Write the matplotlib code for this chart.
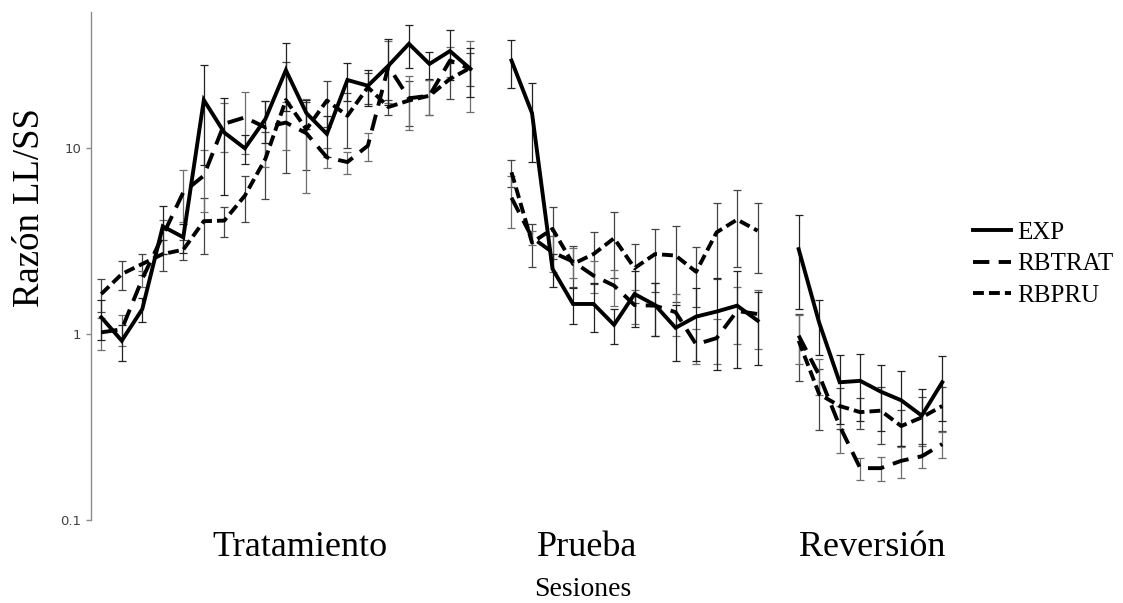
import numpy as np
import matplotlib
matplotlib.use("Agg")
import matplotlib.pyplot as plt

# ---- data -------------------------------------------------------------
# sessions per phase (a blank slot separates the phases on the category axis)
n_trat, n_prue, n_rev = 19, 13, 8

exp_trat = [1.23, 0.92, 1.36, 3.79, 3.31, 18.1, 12.1, 9.96, 14.3, 26.2,
            15.4, 11.9, 23.2, 21.6, 27.7, 36.3, 28.3, 33.2, 26.6]
exp_prue = [29.5, 15.4, 2.24, 1.45, 1.45, 1.12, 1.64, 1.43, 1.08, 1.24,
            1.32, 1.42, 1.18]
exp_rev = [2.86, 1.15, 0.55, 0.56, 0.49, 0.44, 0.364, 0.55]

rbtrat_trat = [1.02, 1.06, 1.98, 3.38, 5.78, 7.1, 13.5, 14.6, 12.9, 13.7,
               12.0, 8.9, 8.4, 10.3, 27.5, 18.5, 19.1, 29.5, 26.6]
rbtrat_prue = [5.4, 3.3, 2.75, 2.45, 2.06, 1.82, 1.43, 1.42, 1.31, 0.88,
               0.95, 1.33, 1.28]
rbtrat_rev = [0.98, 0.6, 0.32, 0.19, 0.19, 0.208, 0.22, 0.256]

rbpru_trat = [1.64, 2.10, 2.38, 2.69, 2.84, 4.04, 4.07, 5.54, 8.73, 18.1,
              12.6, 18.0, 14.9, 21.2, 16.6, 18.0, 19.1, 23.5, 27.0]
rbpru_prue = [7.4, 3.1, 3.67, 2.38, 2.69, 3.27, 2.26, 2.69, 2.64, 2.16,
              3.52, 4.12, 3.59]
rbpru_rev = [0.92, 0.475, 0.41, 0.38, 0.387, 0.32, 0.356, 0.41]

# standard errors
exp_err_trat = [0.3, 0.2, 0.2, 1.1, 0.6, 10.0, 6.5, 1.8, 3.6, 10.4,
                2.7, 3.0, 5.3, 4.7, 10.6, 9.4, 4.7, 10.0, 7.8]
exp_err_prue = [8.5, 7.0, 0.45, 0.32, 0.43, 0.24, 0.55, 0.45, 0.36, 0.52,
                0.68, 0.76, 0.5]
exp_err_rev = [1.5, 0.38, 0.22, 0.22, 0.19, 0.19, 0.14, 0.21]

rbtrat_err_trat = [0.2, 0.2, 0.2, 0.7, 1.8, 2.6, 4.0, 5.3, 5.0, 4.0,
                   6.3, 1.1, 1.15, 1.8, 10.0, 6.0, 4.0, 5.5, 11.0]
rbtrat_err_prue = [1.7, 0.3, 0.6, 0.45, 0.4, 0.4, 0.3, 0.45, 0.33, 0.19,
                   0.26, 0.45, 0.45]
rbtrat_err_rev = [0.29, 0.13, 0.09, 0.025, 0.028, 0.04, 0.03, 0.04]

rbpru_err_trat = [0.33, 0.38, 0.3, 0.5, 0.35, 1.35, 0.75, 1.56, 3.4, 10.8,
                  5.0, 5.0, 4.9, 4.0, 1.6, 4.9, 4.0, 5.2, 5.4]
rbpru_err_prue = [1.2, 0.8, 1.15, 0.6, 0.83, 1.26, 0.8, 1.0, 1.15, 0.76,
                  1.54, 1.84, 1.45]
rbpru_err_rev = [0.36, 0.17, 0.1, 0.07, 0.13, 0.07, 0.1, 0.11]

phase_labels = ["Tratamiento", "Prueba", "Reversión"]
series_names = ["EXP", "RBTRAT", "RBPRU"]
y_ticks = [0.1, 1, 10]
y_tick_labels = ["0.1", "1", "10"]

# ---- figure -----------------------------------------------------------
W, H = 1123, 603
fig = plt.figure(figsize=(W / 100, H / 100), dpi=100)
ax = fig.add_axes([91 / W, 1 - 520 / H, (952.5 - 91) / W, (520 - 12) / H])

x_trat = np.arange(n_trat)
x_prue = np.arange(n_prue) + n_trat + 1
x_rev = np.arange(n_rev) + n_trat + n_prue + 2
phase_x = [x_trat, x_prue, x_rev]

lw = 2.8
styles = {
    "EXP": dict(linestyle="-", color="black"),
    "RBTRAT": dict(linestyle=(0, (4.2, 2.4)), color="black"),
    "RBPRU": dict(linestyle=(0, (2.8, 1.3)), color="black"),
}
bar_colors = {"EXP": "#222222", "RBTRAT": "#6e6e6e", "RBPRU": "#444444"}

data = {
    "EXP": ([exp_trat, exp_prue, exp_rev], [exp_err_trat, exp_err_prue, exp_err_rev]),
    "RBTRAT": ([rbtrat_trat, rbtrat_prue, rbtrat_rev],
               [rbtrat_err_trat, rbtrat_err_prue, rbtrat_err_rev]),
    "RBPRU": ([rbpru_trat, rbpru_prue, rbpru_rev],
              [rbpru_err_trat, rbpru_err_prue, rbpru_err_rev]),
}

handles = {}
for name in ["RBPRU", "RBTRAT", "EXP"]:
    vals, errs = data[name]
    for xs, v, e in zip(phase_x, vals, errs):
        v = np.asarray(v)
        e = np.asarray(e)
        lower = np.minimum(e, v * 0.999)
        ax.errorbar(xs, v, yerr=[lower, e], fmt="none",
                    ecolor=bar_colors[name], elinewidth=0.9,
                    capsize=2.9, capthick=0.9, zorder=2)
        ln, = ax.plot(xs, v, lw=lw, solid_joinstyle="miter",
                      dash_capstyle="butt", zorder=3, **styles[name])
    handles[name] = ln

ax.set_yscale("log")
ax.set_ylim(0.1, 10 ** 1.731)
ax.set_xlim(-0.5, n_trat + n_prue + n_rev + 2 - 0.5)
ax.set_yticks(y_ticks)
ax.set_yticklabels(y_tick_labels)
ax.yaxis.set_minor_locator(matplotlib.ticker.NullLocator())
ax.set_xticks([])
for s in ["top", "right", "bottom"]:
    ax.spines[s].set_visible(False)
ax.spines["left"].set_color("#8c8c8c")
ax.spines["left"].set_linewidth(1.0)
ax.tick_params(axis="y", direction="out", length=3.8, width=1.0,
               color="#8c8c8c", labelsize=9.5, labelcolor="#404040", pad=3)

serif = "Liberation Serif"
# phase names under the axis
label_y = 10 ** ((335 - 548) / 186)
for lab, xc in zip(phase_labels, [9.67, 23.7, 37.6]):
    ax.text(xc, label_y, lab, ha="center", va="center",
            fontsize=26, family=serif, clip_on=False)

fig.text(583 / W, 1 - 590 / H, "Sesiones", ha="center", va="center",
         fontsize=20, family=serif)
fig.text(30 / W, 1 - 208 / H, "Razón LL/SS", ha="center", va="center",
         rotation=90, fontsize=26.5, family=serif)

leg = fig.legend([handles[n] for n in series_names], series_names,
                 loc="center left", bbox_to_anchor=(973 / W, 1 - 264 / H),
                 frameon=False, prop={"family": serif, "size": 18},
                 handlelength=1.5, handletextpad=0.25, labelspacing=0.36,
                 borderpad=0, borderaxespad=0)

fig.savefig("out.png", dpi=100, facecolor="white")
